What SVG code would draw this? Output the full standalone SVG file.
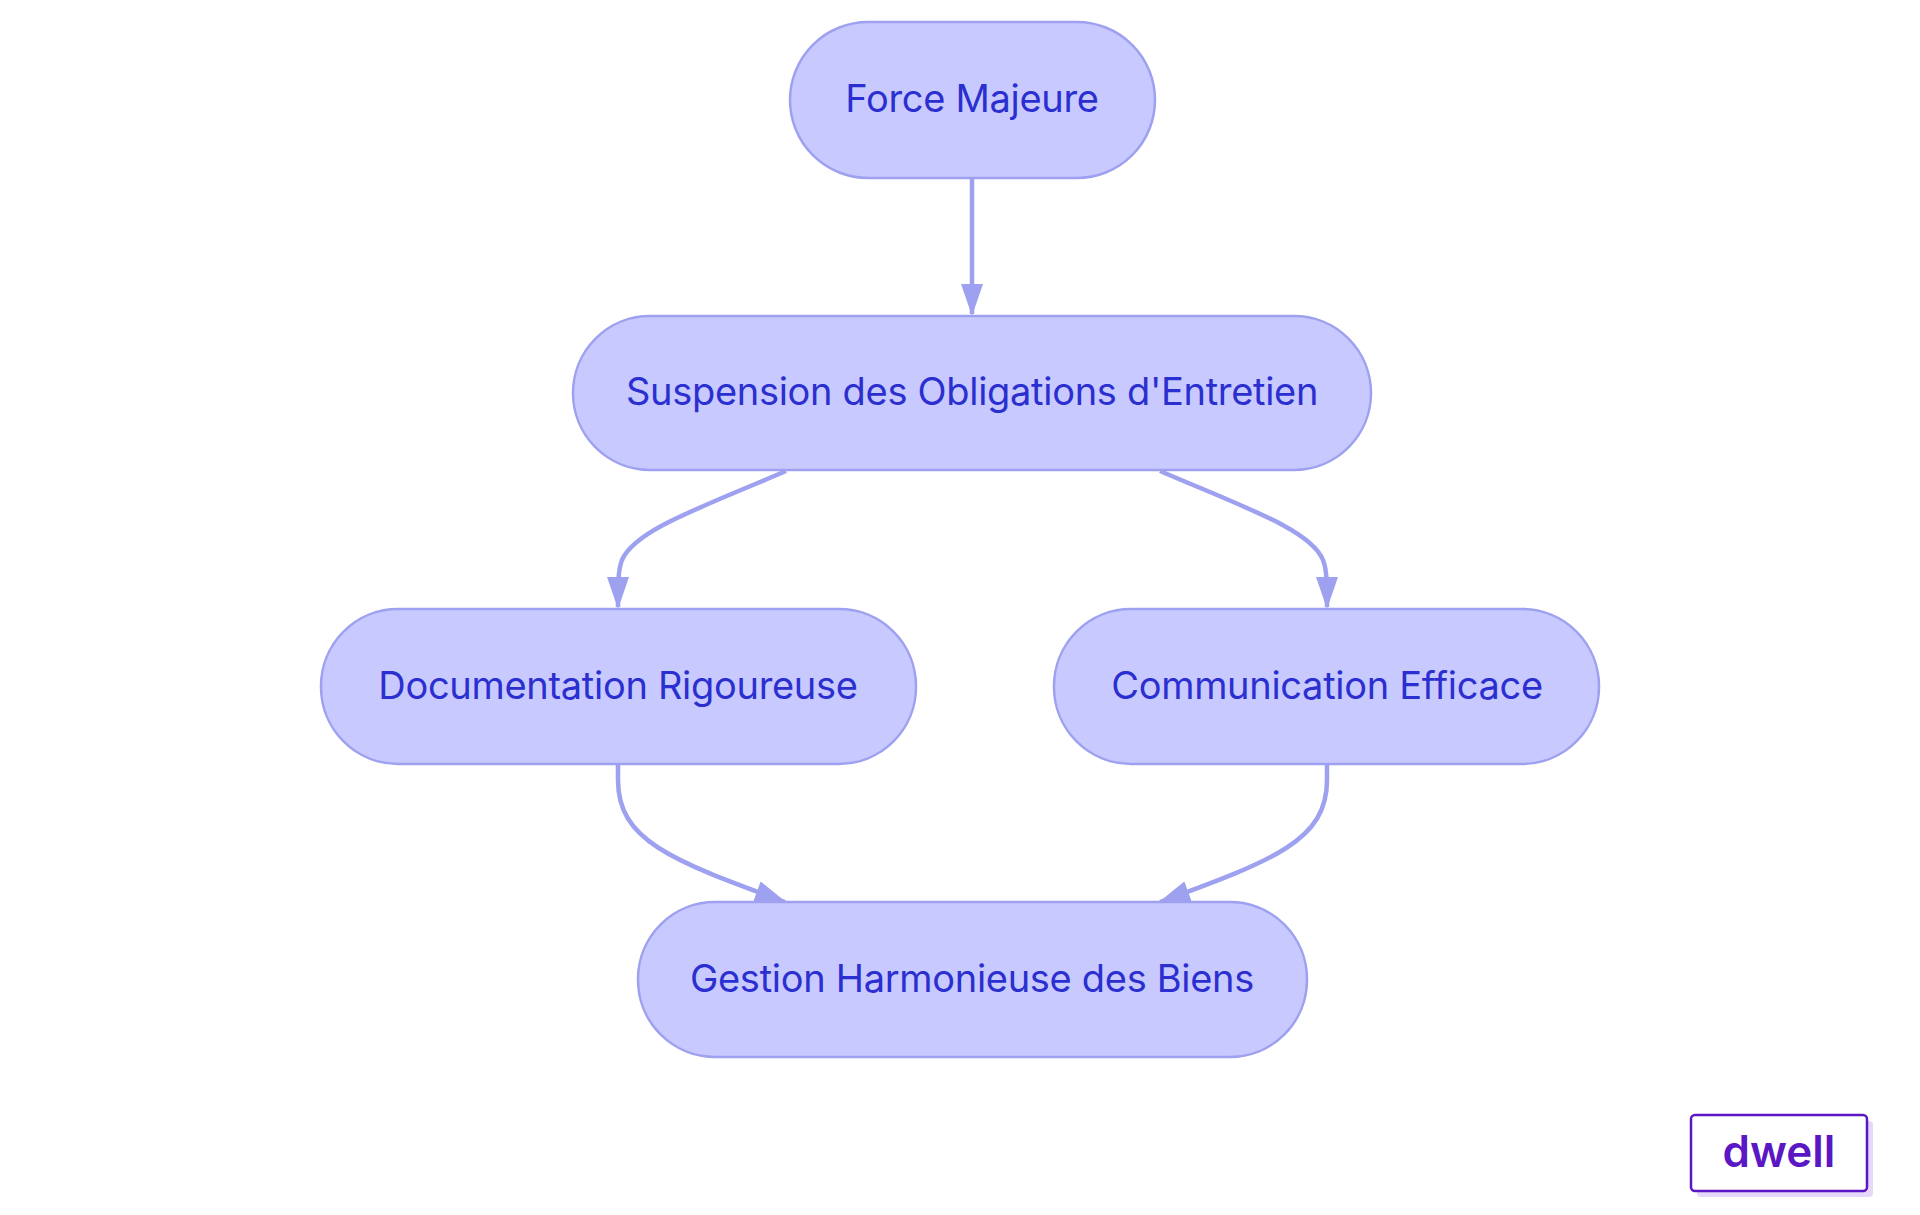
<svg xmlns="http://www.w3.org/2000/svg" width="1920" height="1215" viewBox="0 0 1920 1215">
<style>
.n{fill:#c8caff;stroke:#9ea1ef;stroke-width:2.5}
.t{font-family:Inter,"Noto Sans",sans-serif;font-size:38px;fill:#2b2fd0;text-anchor:middle;dominant-baseline:central;letter-spacing:-0.3px}
.e{fill:none;stroke:#9ea1ef;stroke-width:4.5}
</style>
<defs><marker id="a" viewBox="0 0 32 22" refX="30" refY="11" markerWidth="32" markerHeight="22" markerUnits="userSpaceOnUse" orient="auto"><path d="M0,0L32,11L0,22z" fill="#9ea1ef"/></marker></defs>
<rect width="1920" height="1215" fill="#fff"/>
<g id="connectors">
<path class="e" d="M972,178V314" marker-end="url(#a)"/>
<path class="e" d="M786,471C700,508 635,530 622,560 618,570 618,585 618,607" marker-end="url(#a)"/>
<path class="e" d="M1160,471C1246,508 1311,530 1323,560 1327,570 1327,585 1327,607" marker-end="url(#a)"/>
<path class="e" d="M618,764V780C618,840 670,860 785,902" marker-end="url(#a)"/>
<path class="e" d="M1327,764V780C1327,840 1275,860 1160,902" marker-end="url(#a)"/>
</g>
<g id="force"><rect class="n" x="790" y="22" width="365" height="156" rx="78"/><text class="t" x="972" y="98">Force Majeure</text></g>
<g id="suspension"><rect class="n" x="573" y="316" width="798" height="154" rx="77"/><text class="t" x="972" y="391">Suspension des Obligations d'Entretien</text></g>
<g id="documentation"><rect class="n" x="321" y="609" width="595" height="155" rx="77"/><text class="t" x="618" y="685">Documentation Rigoureuse</text></g>
<g id="communication"><rect class="n" x="1054" y="609" width="545" height="155" rx="77"/><text class="t" x="1327" y="685">Communication Efficace</text></g>
<g id="gestion"><rect class="n" x="638" y="902" width="669" height="155" rx="77"/><text class="t" x="972" y="978">Gestion Harmonieuse des Biens</text></g>
<g id="logo">
<rect x="1697" y="1121" width="176" height="76" rx="4" fill="#e6d8fa"/>
<rect x="1691" y="1115" width="176" height="76" rx="4" fill="#fff" stroke="#5b17c4" stroke-width="2.5"/>
<text x="1779" y="1167" font-family="Inter,sans-serif" font-weight="600" font-size="44" fill="#5b17c4" text-anchor="middle">dwell</text>
</g>
</svg>
